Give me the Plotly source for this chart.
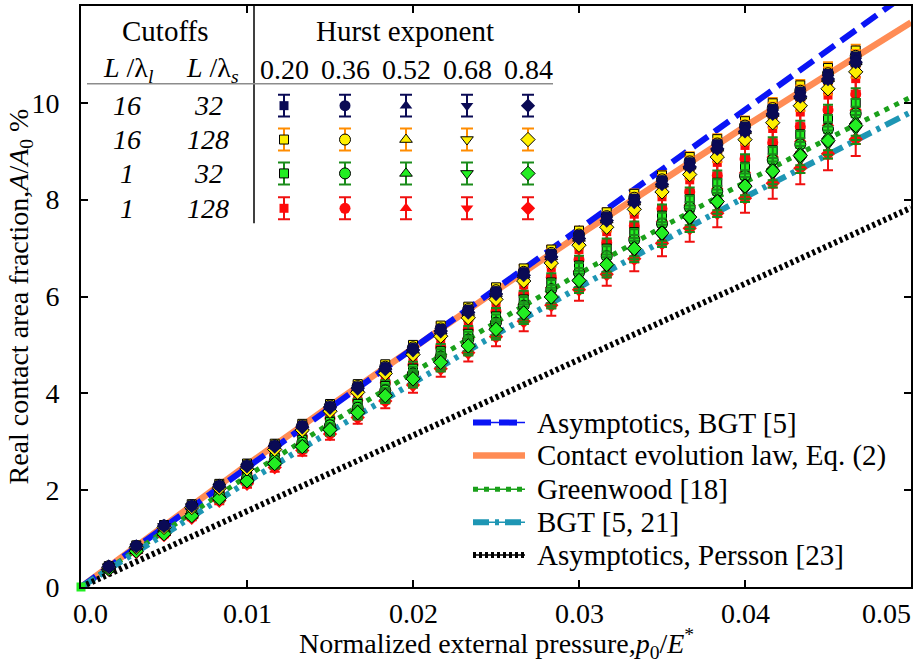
import plotly.graph_objects as go

# ---------------- data ----------------
pressure = [0.00167, 0.00333, 0.005, 0.00667, 0.00833, 0.01, 0.01167, 0.01333, 0.015, 0.01667,
            0.01833, 0.02, 0.02167, 0.02333, 0.025, 0.02667, 0.02833, 0.03, 0.03167, 0.03333,
            0.035, 0.03667, 0.03833, 0.04, 0.04167, 0.04333, 0.045, 0.04667]

hurst_labels = ["0.20", "0.36", "0.52", "0.68", "0.84"]
cutoff_l = ["16", "16", "1", "1"]
cutoff_s = ["32", "128", "32", "128"]

# L/ll = 16, L/ls = 32 (navy)
a16_32_h020 = [0.43,0.85,1.27,1.69,2.10,2.52,2.93,3.34,3.74,4.15,4.55,4.94,5.34,5.73,6.12,6.51,6.89,7.28,7.66,8.03,8.41,8.78,9.15,9.52,9.88,10.24,10.60,10.96]
a16_32_h036 = [0.42,0.85,1.27,1.68,2.10,2.51,2.92,3.33,3.73,4.13,4.53,4.93,5.32,5.72,6.10,6.49,6.88,7.26,7.64,8.01,8.39,8.76,9.13,9.49,9.85,10.22,10.57,10.93]
a16_32_h052 = [0.42,0.84,1.26,1.68,2.09,2.50,2.91,3.32,3.72,4.12,4.52,4.92,5.31,5.70,6.09,6.47,6.86,7.24,7.61,7.99,8.36,8.73,9.10,9.47,9.83,10.19,10.55,10.90]
a16_32_h068 = [0.42,0.84,1.26,1.67,2.09,2.50,2.90,3.31,3.71,4.11,4.51,4.90,5.29,5.68,6.07,6.46,6.84,7.22,7.59,7.97,8.34,8.71,9.08,9.44,9.80,10.16,10.52,10.87]
a16_32_h084 = [0.42,0.84,1.26,1.67,2.08,2.49,2.90,3.30,3.70,4.10,4.50,4.89,5.28,5.67,6.05,6.44,6.82,7.20,7.57,7.95,8.32,8.68,9.05,9.41,9.77,10.13,10.49,10.84]
# L/ll = 16, L/ls = 128 (yellow)
a16_128_h020 = [0.43,0.86,1.28,1.71,2.13,2.55,2.96,3.37,3.78,4.19,4.60,5.00,5.40,5.79,6.19,6.58,6.97,7.36,7.74,8.12,8.50,8.88,9.25,9.62,9.99,10.36,10.72,11.08]
a16_128_h036 = [0.43,0.85,1.27,1.69,2.11,2.52,2.93,3.34,3.75,4.15,4.55,4.95,5.34,5.74,6.13,6.51,6.90,7.28,7.66,8.04,8.42,8.79,9.16,9.53,9.89,10.25,10.61,10.97]
a16_128_h052 = [0.42,0.84,1.26,1.67,2.08,2.49,2.90,3.30,3.70,4.10,4.50,4.89,5.29,5.67,6.06,6.44,6.82,7.20,7.58,7.95,8.32,8.69,9.06,9.42,9.78,10.14,10.50,10.85]
a16_128_h068 = [0.42,0.83,1.25,1.66,2.06,2.47,2.87,3.27,3.67,4.07,4.46,4.85,5.24,5.62,6.00,6.38,6.76,7.14,7.51,7.88,8.25,8.61,8.98,9.34,9.69,10.05,10.40,10.75]
a16_128_h084 = [0.41,0.82,1.23,1.64,2.04,2.44,2.84,3.24,3.63,4.02,4.41,4.80,5.18,5.56,5.94,6.32,6.69,7.06,7.43,7.80,8.16,8.52,8.88,9.24,9.59,9.94,10.29,10.64]
# L/ll = 1, L/ls = 32 (green)
a1_32_h020 = [0.39,0.78,1.16,1.54,1.92,2.30,2.67,3.04,3.41,3.78,4.15,4.51,4.87,5.23,5.59,5.94,6.29,6.64,6.99,7.33,7.67,8.01,8.35,8.68,9.02,9.35,9.67,10.00]
a1_32_h036 = [0.38,0.76,1.13,1.51,1.88,2.25,2.61,2.98,3.34,3.70,4.06,4.41,4.76,5.11,5.46,5.81,6.15,6.49,6.83,7.17,7.50,7.84,8.17,8.49,8.82,9.14,9.46,9.78]
a1_32_h052 = [0.37,0.75,1.12,1.48,1.85,2.21,2.57,2.93,3.28,3.64,3.99,4.34,4.69,5.03,5.37,5.71,6.05,6.39,6.72,7.05,7.38,7.71,8.03,8.35,8.67,8.99,9.31,9.62]
a1_32_h068 = [0.37,0.73,1.10,1.46,1.81,2.17,2.53,2.88,3.23,3.57,3.92,4.26,4.60,4.94,5.28,5.61,5.94,6.27,6.60,6.93,7.25,7.57,7.89,8.21,8.52,8.83,9.14,9.45]
a1_32_h084 = [0.37,0.74,1.10,1.47,1.83,2.19,2.55,2.90,3.25,3.60,3.95,4.30,4.64,4.98,5.32,5.66,5.99,6.33,6.66,6.99,7.31,7.64,7.96,8.28,8.59,8.91,9.22,9.53]
# L/ll = 1, L/ls = 128 (red)
a1_128_h020 = [0.41,0.81,1.22,1.62,2.02,2.41,2.81,3.20,3.59,3.97,4.35,4.74,5.11,5.49,5.86,6.24,6.60,6.97,7.34,7.70,8.06,8.41,8.77,9.12,9.47,9.81,10.16,10.50]
a1_128_h036 = [0.40,0.79,1.18,1.57,1.95,2.34,2.72,3.10,3.48,3.85,4.22,4.59,4.96,5.32,5.69,6.05,6.40,6.76,7.11,7.46,7.81,8.16,8.50,8.84,9.18,9.51,9.85,10.18]
a1_128_h052 = [0.38,0.77,1.15,1.53,1.90,2.27,2.65,3.01,3.38,3.74,4.11,4.47,4.82,5.18,5.53,5.88,6.23,6.57,6.92,7.26,7.60,7.93,8.27,8.60,8.93,9.25,9.58,9.90]
a1_128_h068 = [0.37,0.74,1.10,1.46,1.82,2.18,2.54,2.89,3.24,3.59,3.94,4.28,4.63,4.97,5.31,5.64,5.98,6.31,6.64,6.96,7.29,7.61,7.93,8.25,8.57,8.88,9.19,9.50]
a1_128_h084 = [0.36,0.72,1.07,1.43,1.78,2.13,2.47,2.82,3.16,3.50,3.84,4.17,4.51,4.84,5.17,5.49,5.82,6.14,6.46,6.78,7.10,7.41,7.72,8.03,8.34,8.65,8.95,9.25]

err_16_32 = [0.01,0.01,0.01,0.01,0.02,0.02,0.02,0.02,0.03,0.03,0.03,0.04,0.04,0.04,0.04,0.05,0.05,0.05,0.06,0.06,0.06,0.06,0.07,0.07,0.07,0.07,0.08,0.08]
err_16_128 = [0.01,0.01,0.01,0.02,0.02,0.03,0.03,0.04,0.04,0.05,0.05,0.05,0.06,0.06,0.07,0.07,0.08,0.08,0.08,0.09,0.09,0.10,0.10,0.10,0.11,0.11,0.12,0.12]
err_1_32 = [0.01,0.02,0.03,0.05,0.06,0.07,0.08,0.09,0.10,0.11,0.12,0.14,0.15,0.16,0.17,0.18,0.19,0.20,0.21,0.22,0.23,0.24,0.25,0.26,0.27,0.28,0.29,0.30]
err_1_128 = [0.01,0.03,0.04,0.05,0.07,0.08,0.09,0.11,0.12,0.13,0.15,0.16,0.17,0.18,0.20,0.21,0.22,0.23,0.24,0.26,0.27,0.28,0.29,0.30,0.32,0.33,0.34,0.35]

# theoretical curves
theory_p = [0, 0.005, 0.01, 0.015, 0.02, 0.025, 0.03, 0.035, 0.04, 0.045, 0.05]
evolution_law = [0, 1.27, 2.52, 3.74, 4.94, 6.12, 7.27, 8.40, 9.51, 10.59, 11.66]
greenwood = [0, 1.16, 2.29, 3.38, 4.44, 5.47, 6.47, 7.43, 8.36, 9.26, 10.12]
bgt_full = [0, 1.10, 2.17, 3.21, 4.23, 5.22, 6.19, 7.14, 8.05, 8.94, 9.81]
asym_p = [0, 0.05]
asym_bgt = [0, 12.32]
asym_persson = [0, 7.83]

x_ticks = [0.0, 0.01, 0.02, 0.03, 0.04, 0.05]
x_tick_text = ["0.0", "0.01", "0.02", "0.03", "0.04", "0.05"]
y_ticks = [0, 2, 4, 6, 8, 10, 12]

# ---------------- styles ----------------
FONT = "Liberation Serif, Times New Roman, DejaVu Serif, serif"
symbols = ["square", "circle", "triangle-up", "triangle-down", "diamond"]
sym_size = [9, 11, 11, 11, 11]

groups = [  # drawn bottom to top
    dict(series=[a1_128_h020, a1_128_h036, a1_128_h052, a1_128_h068, a1_128_h084], err=err_1_128,
         fill="#FF0A0A", edge="#FF0A0A", edgew=0, errc="#F01010"),
    dict(series=[a1_32_h020, a1_32_h036, a1_32_h052, a1_32_h068, a1_32_h084], err=err_1_32,
         fill="#22EE22", edge="#000000", edgew=1, errc="#1A8C1A"),
    dict(series=[a16_128_h020, a16_128_h036, a16_128_h052, a16_128_h068, a16_128_h084], err=err_16_128,
         fill="#FFF000", edge="#000000", edgew=1, errc="#FF8C00"),
    dict(series=[a16_32_h020, a16_32_h036, a16_32_h052, a16_32_h068, a16_32_h084], err=err_16_32,
         fill="#0A0A55", edge="#0A0A55", edgew=0, errc="#0A0A55"),
]
table_groups = [groups[3], groups[2], groups[1], groups[0]]

theory = [
    ("Asymptotics, BGT [5]", asym_p, asym_bgt, "#0A14F5", 6, "18px,8px"),
    ("Contact evolution law, Eq. (2)", theory_p, evolution_law, "#FF8C55", 6.5, "solid"),
    ("Greenwood [18]", theory_p, greenwood, "#1AA01A", 5, "5px,6px"),
    ("BGT [5, 21]", theory_p, bgt_full, "#1E96B4", 6, "16px,6px,4px,6px"),
    ("Asymptotics, Persson [23]", asym_p, asym_persson, "#000000", 6, "3px,3px"),
]
draw_order = [1, 0, 2, 3, 4]

fig = go.Figure()

for i in draw_order:
    name, xs, ys, color, w, dash = theory[i]
    fig.add_trace(go.Scatter(x=xs, y=ys, mode="lines", name=name,
                             line=dict(color=color, width=w, dash=dash),
                             showlegend=False, hoverinfo="skip"))

for g in groups:
    for vals, sym, sz in zip(g["series"], symbols, sym_size):
        fig.add_trace(go.Scatter(
            x=pressure, y=vals, mode="markers", showlegend=False, hoverinfo="skip",
            marker=dict(symbol=sym, size=sz, color=g["fill"],
                        line=dict(color=g["edge"], width=g["edgew"])),
            error_y=dict(type="data", array=g["err"], color=g["errc"], thickness=2, width=5)))

# origin point
fig.add_trace(go.Scatter(x=[0], y=[0], mode="markers", showlegend=False, cliponaxis=False,
                         marker=dict(symbol="square", size=9, color="#22EE22",
                                     line=dict(color="#22EE22", width=0))))

# ---------------- table (overlay pixel axes) ----------------
col_x = [203, 264, 325, 386, 447]
row_y = [100, 134, 168, 203]
for g, ry in zip(table_groups, row_y):
    for sym, sz, cx in zip(symbols, sym_size, col_x):
        fig.add_trace(go.Scatter(
            x=[cx], y=[ry], xaxis="x2", yaxis="y2", mode="markers", showlegend=False,
            hoverinfo="skip", cliponaxis=False,
            marker=dict(symbol=sym, size=sz, color=g["fill"],
                        line=dict(color=g["edge"], width=g["edgew"])),
            error_y=dict(type="constant", value=11, color=g["errc"], thickness=2, width=6)))

ann = []
def txt(x, y, t, size=28, anchor="center", ref=("x2", "y2")):
    ann.append(dict(x=x, y=y, xref=ref[0], yref=ref[1], text=t, showarrow=False,
                    xanchor=anchor, yanchor="middle", font=dict(family=FONT, size=size, color="black")))

txt(84, 25, "Cutoffs", 29)
txt(324, 25, "Hurst exponent", 29)
txt(47, 64, "<i>L</i> /λ<sub><i>l</i></sub>")
txt(131, 64, "<i>L</i> /λ<sub><i>s</i></sub>")
for cx, h in zip(col_x, hurst_labels):
    txt(cx, 64, h, 28)
for ry, cl, cs in zip(row_y, cutoff_l, cutoff_s):
    txt(46, ry, "<i>%s</i>" % cl)
    txt(127, ry, "<i>%s</i>" % cs)

shapes = [
    dict(type="line", xref="x2", yref="y2", x0=173, x1=173, y0=0, y1=218,
         line=dict(color="black", width=1.5)),
    dict(type="line", xref="x2", yref="y2", x0=6, x1=472, y0=78, y1=78,
         line=dict(color="#8C8C8C", width=1.5)),
]

# ---------------- legend (manual) ----------------
leg_y = [418, 451, 485, 518, 551]
for (name, xs, ys, color, w, dash), ly in zip(theory, leg_y):
    if dash != "solid":
        fig.add_trace(go.Scatter(x=[392, 444], y=[ly, ly], xaxis="x2", yaxis="y2", mode="lines",
                                 showlegend=False, hoverinfo="skip",
                                 line=dict(color=color, width=1.5)))
    fig.add_trace(go.Scatter(x=[392, 444], y=[ly, ly], xaxis="x2", yaxis="y2", mode="lines",
                             showlegend=False, hoverinfo="skip",
                             line=dict(color=color, width=w, dash=dash)))
    txt(454, ly, name, 29, anchor="left")

# x tick labels
for xv, t in zip(x_ticks, x_tick_text):
    a = dict(x=xv, y=0, xref="x", yref="paper", text=t, showarrow=False,
             yanchor="top", yshift=-9, font=dict(family=FONT, size=28, color="black"))
    if t == x_tick_text[0]:
        a.update(xanchor="center", xshift=9)
    elif t == x_tick_text[-1]:
        a.update(xanchor="right", xshift=2)
    else:
        a.update(xanchor="center")
    ann.append(a)

# axis titles
ann.append(dict(x=0.5, y=0, xref="paper", yref="paper", yanchor="middle", yshift=-56,
                text="Normalized external pressure,<i>p</i><sub>0</sub>/<i>E</i><sup>*</sup>",
                showarrow=False, font=dict(family=FONT, size=28, color="black")))
ann.append(dict(x=0, y=0.5, xref="paper", yref="paper", xanchor="center", xshift=-61,
                text="Real contact area fraction,<i>A</i>/<i>A</i><sub>0</sub> %", textangle=-90,
                showarrow=False, font=dict(family=FONT, size=28, color="black")))

fig.update_layout(
    width=921, height=663, margin=dict(l=81, r=10, t=4, b=76),
    paper_bgcolor="white", plot_bgcolor="white", showlegend=False,
    font=dict(family=FONT, size=28, color="black"),
    annotations=ann, shapes=shapes,
    xaxis=dict(range=[0, 0.05], tickvals=x_ticks, showticklabels=False, ticks="inside",
               ticklen=7, tickwidth=1.5, tickcolor="black", showline=True, linecolor="black",
               linewidth=2, mirror="ticks", showgrid=False, zeroline=False),
    yaxis=dict(range=[0, 12], tickvals=y_ticks, ticks="inside", ticklen=7, tickwidth=1.5,
               tickcolor="black", showline=True, linecolor="black", linewidth=2, mirror="ticks",
               showgrid=False, zeroline=False, ticklabelstandoff=14,
               tickfont=dict(family=FONT, size=28, color="black")),
    xaxis2=dict(range=[0, 830], overlaying="x", visible=False, fixedrange=True),
    yaxis2=dict(range=[583, 0], overlaying="y", visible=False, fixedrange=True),
)

fig.write_html("out.html")
